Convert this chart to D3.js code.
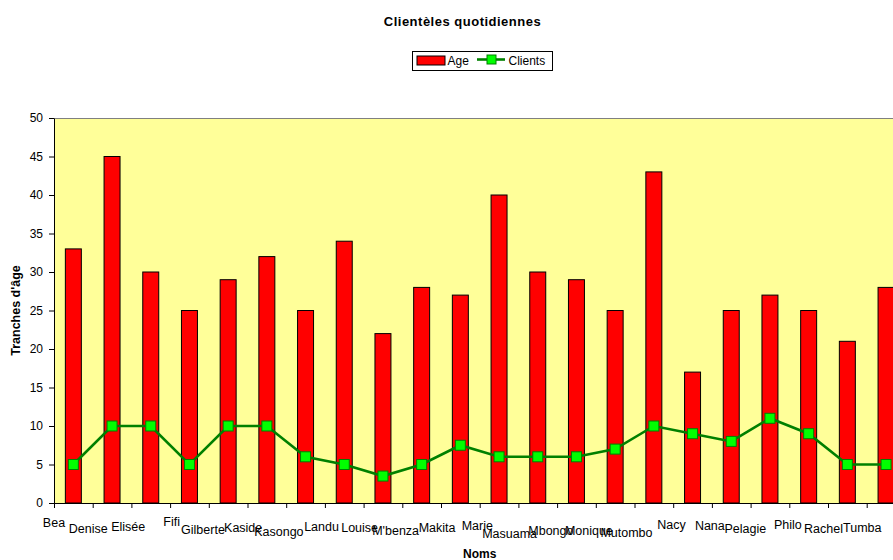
<!DOCTYPE html>
<html>
<head>
<meta charset="utf-8">
<script src="https://cdn.jsdelivr.net/npm/d3@7/dist/d3.min.js"></script>
<style>
  html, body { margin: 0; padding: 0; background: #fff; }
  svg { display: block; font-family: "Liberation Sans", Arial, sans-serif; }
</style>
</head>
<body>
<svg id="chart" width="893" height="560"></svg>
<script>
// Names of the clients (x categories)
const names = ["Bea", "Denise", "Elisée", "Fifi", "Gilberte", "Kaside", "Kasongo", "Landu",
  "Louise", "M'benza", "Makita", "Marie", "Masuama", "Mbongo", "Monique", "Mutombo",
  "Nacy", "Nana", "Pelagie", "Philo", "Rachel", "Tumba"];
// Age of each client (bars)
const ages = [33, 45, 30, 25, 29, 32, 25, 34, 22, 28, 27, 40, 30, 29, 25, 43, 17, 25, 27, 25, 21, 28];
// Daily number of clients (line)
const clients = [5, 10, 10, 5, 10, 10, 6, 5, 3.5, 5, 7.5, 6, 6, 6, 7, 10, 9, 8, 11, 9, 5, 5];
// Y axis ticks
const yTicks = [0, 5, 10, 15, 20, 25, 30, 35, 40, 45, 50];

const svg = d3.select("#chart");

// Plot area (extends past the right edge of the canvas)
const plot = { left: 54, right: 905.4, top: 118, bottom: 503 };

const x = d3.scaleBand().domain(names).range([plot.left, plot.right]).padding(0);
const xEdge = d3.scaleLinear().domain([0, names.length]).range([plot.left, plot.right]);
const y = d3.scaleLinear().domain([0, 50]).range([plot.bottom, plot.top]);

// Background of the plot
svg.append("rect")
  .attr("x", plot.left).attr("y", plot.top)
  .attr("width", plot.right - plot.left).attr("height", plot.bottom - plot.top)
  .attr("fill", "#FFFF99");
svg.append("line")
  .attr("x1", plot.left).attr("x2", plot.right)
  .attr("y1", plot.top + 0.5).attr("y2", plot.top + 0.5)
  .attr("stroke", "#808080").attr("stroke-width", 1);

// Bars
const barW = x.bandwidth() * 0.413;
svg.append("g").selectAll("rect")
  .data(names)
  .join("rect")
  .attr("x", (d) => x(d) + (x.bandwidth() - barW) / 2)
  .attr("y", (d, i) => y(ages[i]))
  .attr("width", barW)
  .attr("height", (d, i) => y(0) - y(ages[i]))
  .attr("fill", "#FF0000")
  .attr("stroke", "#000")
  .attr("stroke-width", 1);

// Y axis
const yAxis = svg.append("g")
  .attr("transform", `translate(${plot.left},0)`)
  .call(d3.axisLeft(y).tickValues(yTicks).tickSize(5).tickSizeOuter(0).tickPadding(6));
yAxis.select(".domain").attr("stroke", "#000");
yAxis.selectAll(".tick line").attr("stroke", "#000");
yAxis.selectAll(".tick text")
  .attr("fill", "#000")
  .style("font-size", "12px")
  .style("font-family", "'Liberation Sans', Arial, sans-serif");

// X axis: ticks on category boundaries
const xAxis = svg.append("g")
  .attr("transform", `translate(0,${plot.bottom})`)
  .call(d3.axisBottom(xEdge).tickValues(d3.range(names.length + 1)).tickSize(5)
    .tickSizeOuter(0).tickFormat(""));
xAxis.select(".domain").attr("stroke", "#000");
xAxis.selectAll(".tick line").attr("stroke", "#000");

// Category labels, dropped and shifted according to their length
const labels = svg.append("g").selectAll("text")
  .data(names)
  .join("text")
  .attr("text-anchor", "end")
  .style("font-size", "12.5px")
  .attr("fill", "#000")
  .text((d) => d);
labels.each(function (d, i) {
  const w = this.getComputedTextLength();
  d3.select(this)
    .attr("x", xEdge(i) + 6 + 0.23 * w)
    .attr("y", 520.5 + 0.31 * w);
});

// Clients line
const line = d3.line()
  .x((d, i) => x(names[i]) + x.bandwidth() / 2)
  .y((d) => y(d));
svg.append("path")
  .datum(clients)
  .attr("d", line)
  .attr("fill", "none")
  .attr("stroke", "#008000")
  .attr("stroke-width", 2.6);

const mk = 10;
svg.append("g").selectAll("rect")
  .data(clients)
  .join("rect")
  .attr("x", (d, i) => x(names[i]) + x.bandwidth() / 2 - mk / 2)
  .attr("y", (d) => y(d) - mk / 2)
  .attr("width", mk).attr("height", mk)
  .attr("fill", "#00FF00")
  .attr("stroke", "#008000")
  .attr("stroke-width", 1);

// Title
svg.append("text")
  .attr("x", 462.5).attr("y", 26)
  .attr("text-anchor", "middle")
  .style("font-size", "13px").style("font-weight", "bold")
  .style("letter-spacing", "0.5px")
  .text("Clientèles quotidiennes");

// Axis titles
svg.append("text")
  .attr("transform", `translate(20,${(plot.top + plot.bottom) / 2}) rotate(-90)`)
  .attr("text-anchor", "middle")
  .style("font-size", "12.5px").style("font-weight", "bold")
  .text("Tranches d'âge");
svg.append("text")
  .attr("x", (plot.left + plot.right) / 2).attr("y", 557.5)
  .attr("text-anchor", "middle")
  .style("font-size", "12px").style("font-weight", "bold")
  .text("Noms");

// Legend
const lg = svg.append("g");
lg.append("rect")
  .attr("x", 412.5).attr("y", 51.5).attr("width", 140).attr("height", 19)
  .attr("fill", "#fff").attr("stroke", "#000").attr("stroke-width", 1);
lg.append("rect")
  .attr("x", 417).attr("y", 56).attr("width", 28).attr("height", 9)
  .attr("fill", "#FF0000").attr("stroke", "#000").attr("stroke-width", 1);
lg.append("text")
  .attr("x", 447.5).attr("y", 64.5)
  .style("font-size", "12px").text("Age");
lg.append("line")
  .attr("x1", 477).attr("x2", 505).attr("y1", 59.5).attr("y2", 59.5)
  .attr("stroke", "#008000").attr("stroke-width", 2.6);
lg.append("rect")
  .attr("x", 487).attr("y", 55).attr("width", 9).attr("height", 9)
  .attr("fill", "#00FF00").attr("stroke", "#008000").attr("stroke-width", 1);
lg.append("text")
  .attr("x", 508.5).attr("y", 64.5)
  .style("font-size", "12px").text("Clients");
</script>
</body>
</html>
